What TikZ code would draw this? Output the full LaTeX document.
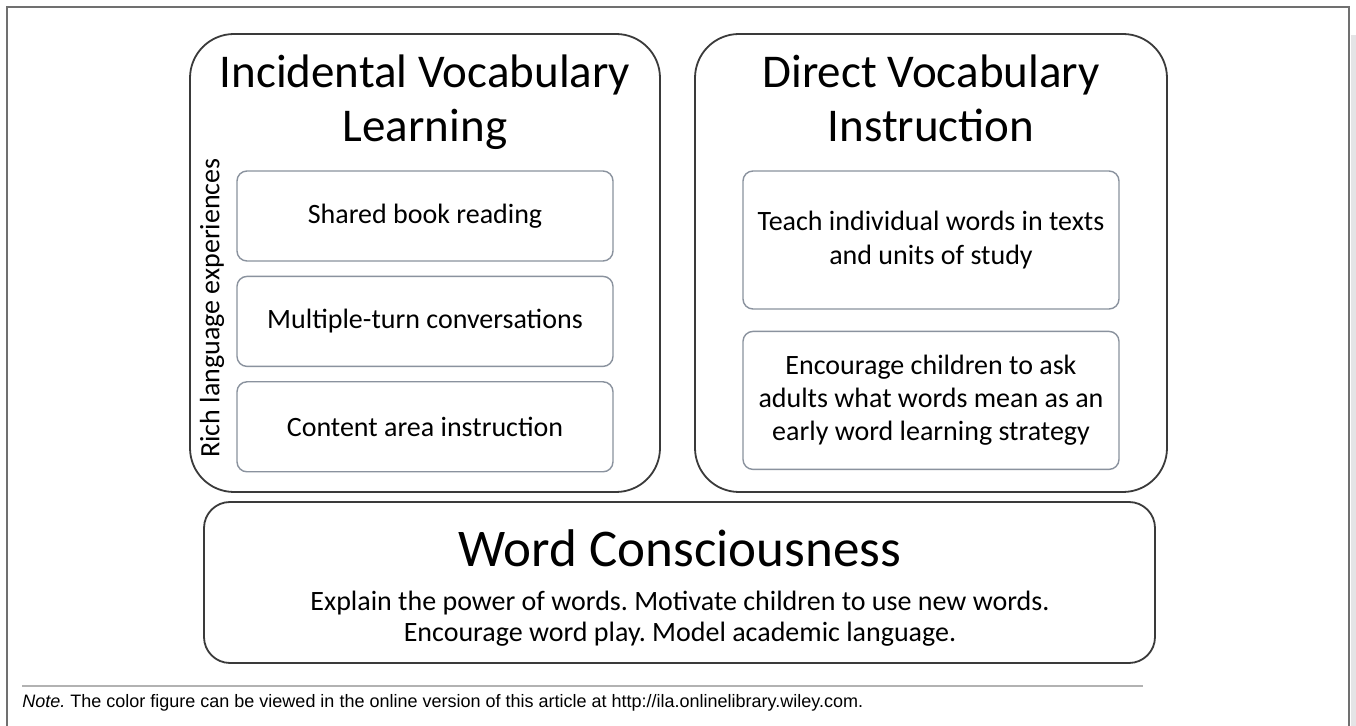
\documentclass[tikz,border=0pt]{standalone}
\usepackage{fontspec}
\setmainfont{Carlito}
\newfontfamily\notefont{Liberation Sans}
\usetikzlibrary{positioning}
\frenchspacing
\definecolor{framegrey}{HTML}{707070}
\definecolor{boxline}{HTML}{3A3A3A}
\definecolor{innerline}{HTML}{8A929E}
\definecolor{rulegrey}{HTML}{B2B2B2}
\definecolor{stripgrey}{HTML}{E4E4E6}
\tikzset{
  bigbox/.style={draw=boxline, line width=0.9pt, rounded corners=22pt},
  basebox/.style={draw=boxline, line width=0.9pt, rounded corners=13pt},
  innerbox/.style={draw=innerline, line width=0.7pt, rounded corners=5pt,
                   minimum width=188pt, inner sep=0pt, align=center,
                   font=\fontsize{14}{16.6}\selectfont},
  heading/.style={align=center, font=\fontsize{23.5}{27}\selectfont},
  bodytext/.style={align=center, font=\fontsize{14}{15.8}\selectfont},
}

\begin{document}
\begin{tikzpicture}[x=0.5pt, y=-0.5pt]   %% 1 unit = 1 px of the page

  \useasboundingbox (0,0) rectangle (1356,726);
  \fill[white] (0,0) rectangle (1356,726);

  %% ── Page frame ───────────────────────────────────────────────────────────
  \fill[stripgrey] (1351,35) rectangle (1356,726);
  \draw[framegrey, line width=0.75pt] (7,726) -- (7,7) -- (1349,7) -- (1349,726);

  %% ── The three outer boxes ────────────────────────────────────────────────
  \draw[bigbox]  (190,34)  rectangle (660,492);
  \draw[bigbox]  (695,34)  rectangle (1167,492);
  \draw[basebox] (204,502) rectangle (1155,663);

  %% ── Headings (base = baseline of the last line) ──────────────────────────
  \node[heading, anchor=base] (incidental) at (425,142) {Incidental Vocabulary\\Learning};
  \node[heading, anchor=base] (direct)     at (931,142) {Direct Vocabulary\\Instruction};

  %% ── Incidental learning: side label and three boxes ──────────────────────
  \node[font=\fontsize{14}{16}\selectfont, rotate=90] (rich) at (212,308) {Rich language experiences};
  \node[innerbox, minimum height=45pt] (shared) at (425,216) {Shared book reading};
  \node[innerbox, minimum height=45pt, below=7pt of shared] (turns) {Multiple-turn conversations};
  \node[innerbox, minimum height=45pt, below=7pt of turns] (content) {Content area instruction};

  %% ── Direct instruction: two boxes ────────────────────────────────────────
  \node[innerbox, minimum height=69pt] (teach) at (931,240)
       {Teach individual words in texts\\and units of study};
  \node[innerbox, minimum height=69pt, below=10.5pt of teach] (ask)
       {Encourage children to ask\\adults what words mean as an\\early word learning strategy};

  %% ── Word consciousness ───────────────────────────────────────────────────
  \node[font=\fontsize{26.5}{30}\selectfont] (wordc) at (680,548) {Word Consciousness};
  \node[bodytext, anchor=base] (explain) at (680,642)
       {Explain the power of words. Motivate children to use new words.\\Encourage word play. Model academic language.};

  %% ── Note under the figure ────────────────────────────────────────────────
  \draw[rulegrey, line width=1pt] (22,686) -- (1143,686);
  \node[font=\notefont\fontsize{9}{11}\selectfont, anchor=base west, inner sep=0pt] (note) at (22,708)
       {\textit{Note.} The color figure can be viewed in the online version of this article at http://ila.onlinelibrary.wiley.com.};

\end{tikzpicture}
\end{document}
